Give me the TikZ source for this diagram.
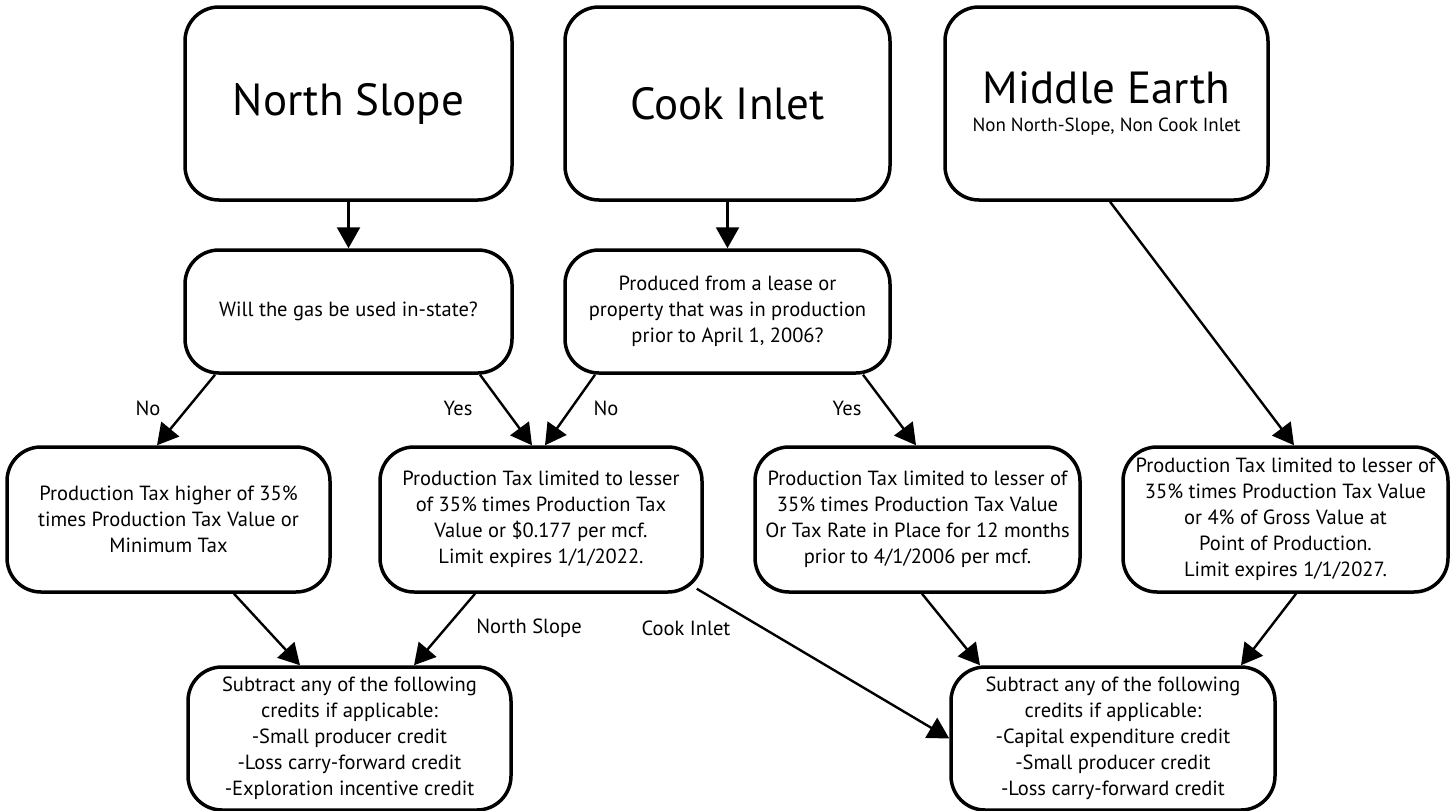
\documentclass[tikz,border=0pt]{standalone}
\usepackage{fontspec}
\setmainfont{PT Sans}
\usetikzlibrary{arrows.meta,calc}
\tikzset{
  box/.style={draw, line width=3.5pt, rounded corners=34pt, align=center, inner sep=0pt, font=\fontsize{20.5}{26}\selectfont},
  conn/.style={line width=2.4pt, -{Triangle[width=23pt,length=21pt]}},
  lbl/.style={font=\fontsize{20.5}{24}\selectfont, inner sep=0pt},
}
\begin{document}
\begin{tikzpicture}[x=1pt,y=-1pt]
\useasboundingbox (0,0) rectangle (1454,811);
\node[box, minimum width=327pt, minimum height=193pt] (ns) at (348.5,103.5) {\fontsize{45}{50}\selectfont North Slope};
\node[box, minimum width=325pt, minimum height=193pt] (ci) at (727.5,103.5) {\fontsize{45}{50}\selectfont Cook Inlet};
\node[box, minimum width=323pt, minimum height=193pt] (me) at (1106.5,103.5) {{\fontsize{45}{44}\selectfont Middle Earth}\\[2pt]{\fontsize{19}{22}\selectfont Non North-Slope, Non Cook Inlet}};
\node[box, minimum width=327pt, minimum height=123pt] (q1) at (348.5,311.5) {Will the gas be used in-state?};
\node[box, minimum width=325pt, minimum height=123pt] (q2) at (727.5,311.5) {Produced from a lease or\\property that was in production\\prior to April 1, 2006?};
\node[box, minimum width=323pt, minimum height=145pt] (b1) at (168.5,519.5) {Production Tax higher of 35\%\\times Production Tax Value or\\Minimum Tax};
\node[box, minimum width=322pt, minimum height=145pt] (b2) at (541,519.5) {Production Tax limited to lesser\\of 35\% times Production Tax\\Value or \$0.177 per mcf.\\Limit expires 1/1/2022.};
\node[box, minimum width=325pt, minimum height=145pt] (b3) at (917.5,519.5) {Production Tax limited to lesser of\\35\% times Production Tax Value\\Or Tax Rate in Place for 12 months\\prior to 4/1/2006 per mcf.};
\node[box, minimum width=325pt, minimum height=145pt] (b4) at (1285.5,519.5) {Production Tax limited to lesser of\\35\% times Production Tax Value\\or 4\% of Gross Value at\\Point of Production.\\Limit expires 1/1/2027.};
\node[box, minimum width=323pt, minimum height=143pt] (bl) at (349.5,738.5) {Subtract any of the following\\credits if applicable:\\-Small producer credit\\-Loss carry-forward credit\\-Exploration incentive credit};
\node[box, minimum width=324pt, minimum height=143pt] (br) at (1113,738.5) {Subtract any of the following\\credits if applicable:\\-Capital expenditure credit\\-Small producer credit\\-Loss carry-forward credit};

\draw[conn] (ns.south) -- (q1.north);
\draw[conn] (ci.south) -- (q2.north);
\draw[conn] ($(q1.south)+(-133.5,0)$) -- ($(b1.north)+(-11.5,0)$);
\draw[conn] ($(q1.south)+(131.5,0)$) -- ($(b2.north)+(-9,0)$);
\draw[conn] ($(q2.south)+(-132.5,0)$) -- ($(b2.north)+(4,0)$);
\draw[conn] ($(q2.south)+(135.5,0)$) -- ($(b3.north)+(-1.5,0)$);
\draw[conn] ($(me.south)+(3.5,0)$) -- ($(b4.north)+(8.5,0)$);
\draw[conn] ($(b1.south)+(65.5,0)$) -- ($(bl.north)+(-49.5,0)$);
\draw[conn] ($(b2.south)+(-66,0)$) -- ($(bl.north)+(64.5,0)$);
\draw[conn] ($(b2.south east)+(-7,-5)$) -- (br.west);
\draw[conn] ($(b3.south)+(4.5,0)$) -- ($(br.north)+(-133,0)$);
\draw[conn] ($(b4.south)+(10.5,0)$) -- ($(br.north)+(128,0)$);

\node[lbl] (lno1) at (148,408) {No};
\node[lbl] (lyes1) at (458,408) {Yes};
\node[lbl] (lno2) at (606,408) {No};
\node[lbl] (lyes2) at (847,408) {Yes};
\node[lbl] (lns) at (529,628) {North Slope};
\node[lbl] (lci) at (686,628) {Cook Inlet};
\end{tikzpicture}
\end{document}
